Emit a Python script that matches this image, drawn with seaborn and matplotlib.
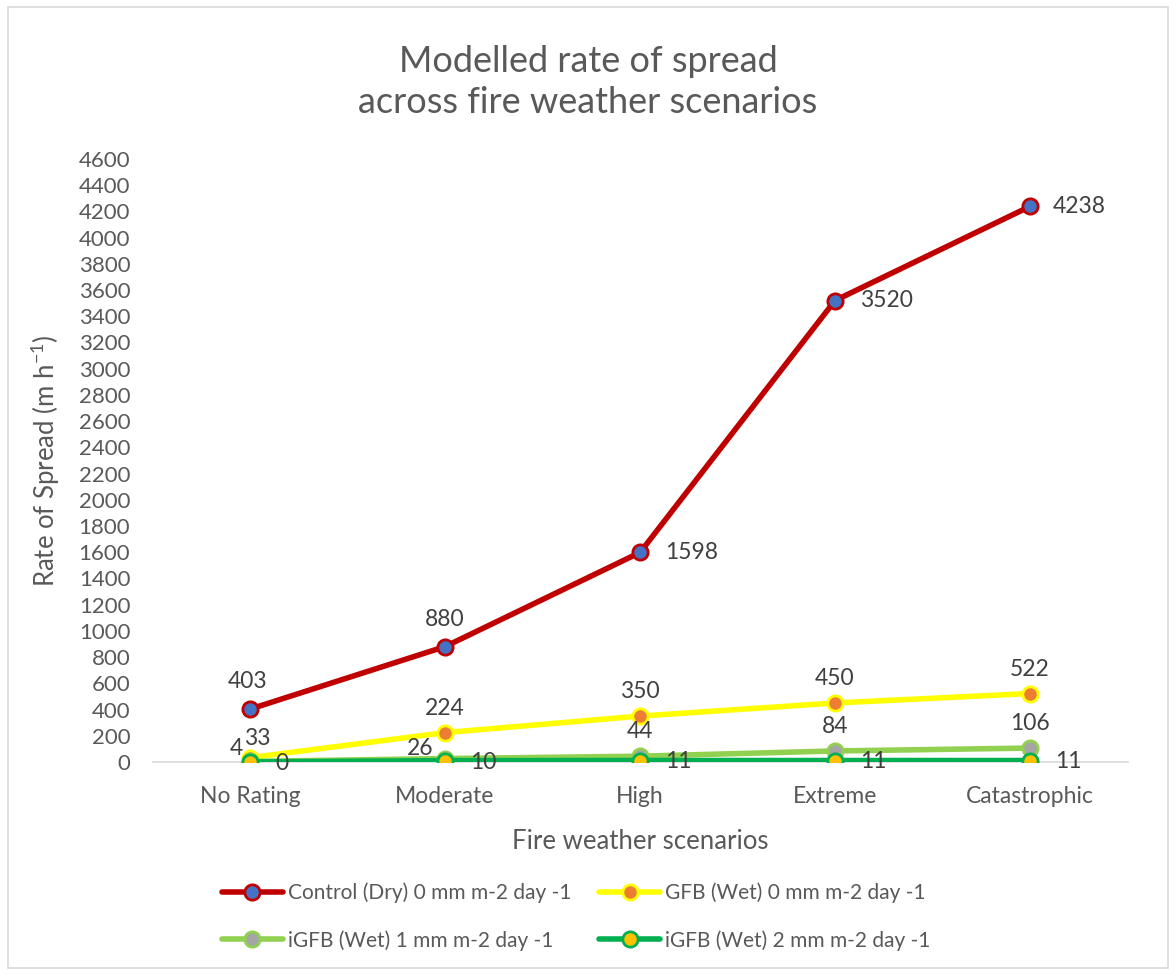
import matplotlib
matplotlib.use("Agg")
import matplotlib.pyplot as plt
import seaborn as sns
import pandas as pd
from matplotlib.patches import Rectangle

categories = ["No Rating", "Moderate", "High", "Extreme", "Catastrophic"]
series_names = ["Control (Dry) 0 mm m-2 day -1", "GFB (Wet) 0 mm m-2 day -1",
                "iGFB (Wet) 1 mm m-2 day -1", "iGFB (Wet) 2 mm m-2 day -1"]
control = [403, 880, 1598, 3520, 4238]
gfb = [33, 224, 350, 450, 522]
igfb1 = [4, 26, 44, 84, 106]
igfb2 = [0, 10, 11, 11, 11]
y_ticks = list(range(0, 4601, 200))

line_colors = ["#C00000", "#FFFF00", "#92D050", "#00B050"]
face_colors = ["#4472C4", "#ED7D31", "#A5A5A5", "#FFC000"]
# label placements per series (dx, dy in points, ha, va)
label_pos = [
    [(-2, 12, "center", "bottom"), (0, 12, "center", "bottom"), (18, 0, "left", "center"),
     (18, 0, "left", "center"), (16, 0, "left", "center")],
    [(5, 6, "center", "bottom")] + [(0, 10, "center", "bottom")] * 4,
    [(-5, 2, "right", "bottom"), (-8, 0, "right", "bottom")] + [(0, 10, "center", "bottom")] * 3,
    [(18, -1, "left", "center")] * 5,
]

sns.set_theme(style="white")
plt.rcParams["font.family"] = ["Lato", "DejaVu Sans"]
plt.rcParams["mathtext.default"] = "regular"

all_vals = [control, gfb, igfb1, igfb2]
df = pd.concat([pd.DataFrame({"scenario": categories, "value": v, "series": n})
                for v, n in zip(all_vals, series_names)], ignore_index=True)

fig = plt.figure(figsize=(11.76, 9.75), dpi=100)
ax = fig.add_axes([0.1297, 0.2185, 0.8291, 0.6185])

text_col = "#595959"
lab_col = "#404040"
for i, name in enumerate(series_names):
    sub = df[df["series"] == name]
    sns.lineplot(data=sub, x="scenario", y="value", ax=ax, color=line_colors[i],
                 linewidth=4, marker="o", markersize=11, markerfacecolor=face_colors[i],
                 markeredgecolor=line_colors[i], markeredgewidth=2, label=name,
                 zorder=3 + i, sort=False)
    for j, v in enumerate(all_vals[i]):
        dx, dy, ha, va = label_pos[i][j]
        ax.annotate(str(v), (j, v), xytext=(dx, dy), textcoords="offset points",
                    ha=ha, va=va, fontsize=16.5, color=lab_col, zorder=10)

ax.set_xlim(-0.5, 4.5)
ax.set_ylim(0, 4600)
ax.set_yticks(y_ticks)
ax.tick_params(axis="y", labelsize=16, colors=text_col, length=0, pad=16)
ax.tick_params(axis="x", labelsize=16.5, colors=text_col, length=0, pad=17)
for s in ["top", "right", "left"]:
    ax.spines[s].set_visible(False)
ax.spines["bottom"].set_color("#D9D9D9")
ax.spines["bottom"].set_linewidth(1.2)
ax.set_xlabel("Fire weather scenarios", fontsize=18.5, color=text_col, labelpad=16)
ax.set_ylabel("Rate of Spread (m h$^{-1}$)", fontsize=18.5, color=text_col, labelpad=12)

fig.text(0.5, 0.916, "Modelled rate of spread\nacross fire weather scenarios",
         ha="center", va="center", fontsize=26, color=text_col, linespacing=1.3)

handles, labels = ax.get_legend_handles_labels()
ax.get_legend().remove()
order = [0, 2, 1, 3]
fig.legend([handles[k] for k in order], [labels[k] for k in order], loc="center",
           bbox_to_anchor=(0.49, 0.06), ncol=2,
           frameon=False, fontsize=15, handlelength=2.9, handletextpad=0.25,
           columnspacing=1.35, labelspacing=1.3, labelcolor=text_col)

fig.patches.append(Rectangle((0.007, 0.007), 0.986, 0.986, transform=fig.transFigure,
                             fill=False, edgecolor="#D9D9D9", linewidth=1.2))

fig.savefig("out.png", dpi=100)
